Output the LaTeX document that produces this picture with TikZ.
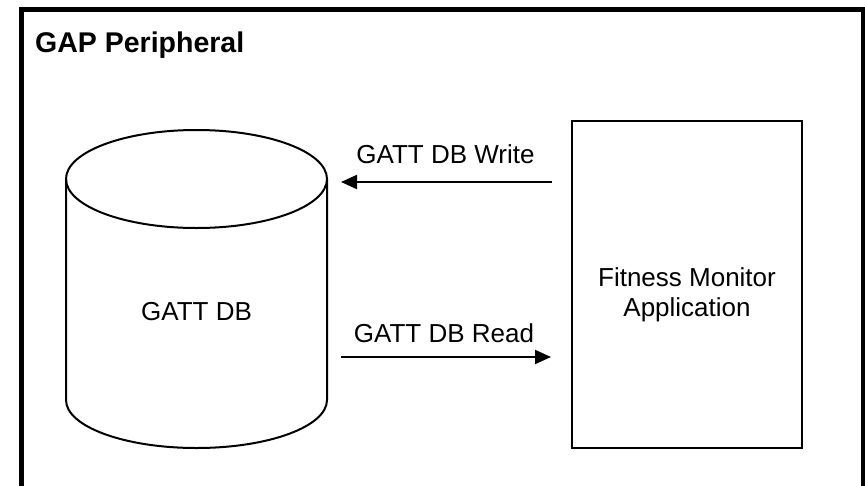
\documentclass[tikz,border=0pt]{standalone}
\usepackage{fontspec}
\setmainfont{Liberation Sans}
\usetikzlibrary{arrows.meta}

\begin{document}
\begin{tikzpicture}[x=1pt, y=-1pt,
  txt/.style={inner sep=0pt, font=\fontsize{26}{30}\selectfont},
  flow/.style={line width=2pt, -{Triangle[length=16pt, width=14pt]}},
  appbox/.style={draw, line width=2pt, minimum width=230pt, minimum height=327pt, inner sep=0pt}]

\useasboundingbox (0,0) rectangle (865,485);

% outer frame (bottom edge runs off the page)
\draw[line width=5pt] (21,9.5) rectangle (863,495);
\node[txt, font=\fontsize{28.5}{32}\selectfont\bfseries, anchor=base west] (title) at (35,52) {GAP Peripheral};

% database cylinder
\draw[line width=2pt] (196.5,179) ellipse[x radius=130.5, y radius=49];
\draw[line width=2pt] (66,179) -- (66,400) arc[start angle=180, end angle=0, x radius=130.5, y radius=48] -- (327,179);
\node[txt, anchor=base] (db) at (196.5,320) {GATT DB};

% application box
\node[appbox] (app) at (687,284.5) {};
\node[txt, align=center] (applbl) at (687,295) {Fitness Monitor\\Application};

% write / read arrows
\coordinate (wrfrom) at (552,182);
\coordinate (wrto) at (341,182);
\coordinate (rdfrom) at (341,357);
\coordinate (rdto) at (551,357);
\draw[flow] (wrfrom) -- (wrto);
\draw[flow] (rdfrom) -- (rdto);
\node[txt, anchor=base] (wrlbl) at (445.5,163) {GATT DB Write};
\node[txt, anchor=base] (rdlbl) at (444,342) {GATT DB Read};

\end{tikzpicture}
\end{document}
